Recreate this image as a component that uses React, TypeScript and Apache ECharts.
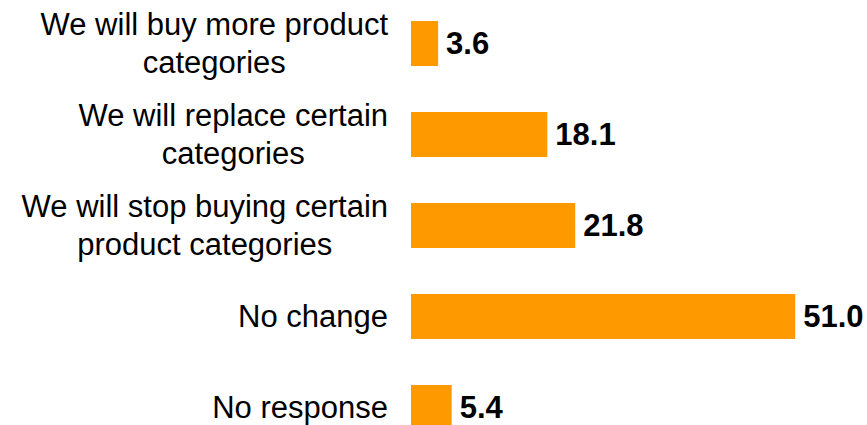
import React, { useEffect, useRef } from "react";
import * as echarts from "echarts";

const categories: string[] = [
  "We will buy more product\ncategories",
  "We will replace certain\ncategories",
  "We will stop buying certain\nproduct categories",
  "No change",
  "No response",
];
const values: number[] = [3.6, 18.1, 21.8, 51.0, 5.4];

export default function App() {
  const ref = useRef<HTMLDivElement>(null);
  useEffect(() => {
    if (!ref.current) return;
    const chart = echarts.init(ref.current, undefined, { renderer: "svg" });
    chart.setOption({
      animation: false,
      grid: {
        left: 411,
        right: 4,
        top: -2,
        bottom: -28,
        containLabel: false,
        outerBoundsMode: "none",
      },
      xAxis: {
        type: "value",
        min: 0,
        max: 60,
        show: false,
      },
      yAxis: {
        type: "category",
        data: categories,
        inverse: true,
        axisLine: { show: false },
        axisTick: { show: false },
        splitLine: { show: false },
        axisLabel: {
          margin: 23,
          align: "right",
          lineHeight: 38,
          formatter: (v: string) =>
            v
              .split("\n")
              .map((l) => `{c|${l}}`)
              .join("\n"),
          rich: {
            c: {
              align: "center",
              fontSize: 31,
              lineHeight: 38,
              fontFamily: "Liberation Sans, Arial, sans-serif",
              color: "#000",
            },
          },
        },
      },
      series: [
        {
          type: "bar",
          data: values,
          barWidth: 45,
          itemStyle: { color: "#FF9900" },
          label: {
            show: true,
            position: "right",
            distance: 8,
            formatter: (p: any) => Number(p.value).toFixed(1),
            fontSize: 31,
            fontWeight: "bold",
            fontFamily: "Liberation Sans, Arial, sans-serif",
            color: "#000",
          },
        },
      ],
    });
    return () => chart.dispose();
  }, []);
  return (
    <div
      ref={ref}
      style={{ position: "absolute", left: 0, top: 0, width: 867, height: 425 }}
    />
  );
}
